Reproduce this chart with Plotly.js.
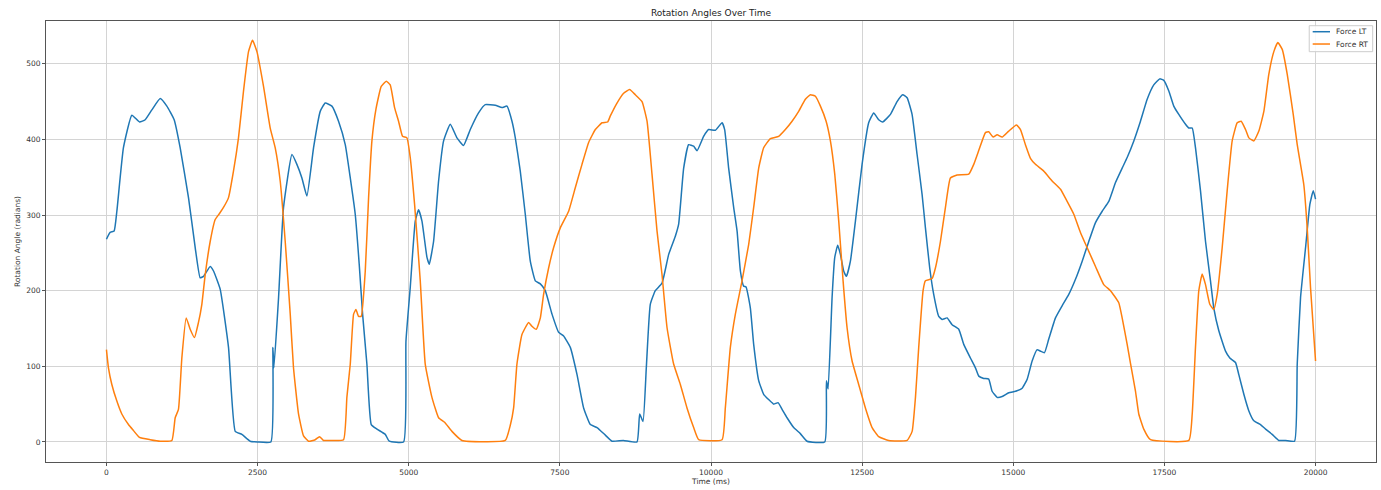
<!DOCTYPE html>
<html>
<head>
<meta charset="utf-8">
<script src="https://cdn.plot.ly/plotly-3.0.1.min.js"></script>
<style>html,body{margin:0;padding:0;background:#fff;}#chart{width:1381px;height:490px;}</style>
</head>
<body>
<div id="chart"></div>
<script>
// Force LT: time (ms) and rotation angle
const timeLT = [0,61,127,172,281,420,547,641,751,889,999,1120,1219,1357,1468,1550,1606,1716,1771,1881,2019,2130,2240,2378,2500,2720,2753,2770,2847,2929,3068,3150,3233,3316,3426,3536,3619,3729,3839,3950,4033,4115,4181,4237,4308,4380,4474,4612,4678,4915,4954,5025,5108,5163,5219,5302,5340,5411,5494,5577,5687,5798,5907,6018,6155,6266,6432,6543,6625,6708,6763,6845,6928,7011,7094,7177,7259,7370,7480,7562,7673,7784,7893,8004,8115,8252,8363,8550,8776,8820,8876,8930,8996,9079,9190,9300,9410,9465,9548,9630,9713,9769,9878,9961,10072,10183,10226,10292,10375,10431,10486,10540,10580,10651,10706,10789,10871,10954,11037,11109,11176,11258,11368,11478,11589,11881,11909,11937,12003,12047,12096,12141,12195,12240,12306,12389,12499,12608,12691,12774,12840,12968,13078,13171,13244,13326,13409,13492,13547,13618,13684,13767,13823,13905,13988,14098,14181,14291,14374,14429,14512,14594,14650,14733,14816,14925,15036,15147,15230,15312,15395,15450,15516,15587,15698,15808,15918,16029,16140,16249,16360,16471,16580,16691,16801,16884,16994,17104,17215,17324,17424,17490,17573,17655,17738,17849,17904,17960,18014,18097,18180,18262,18317,18400,18511,18582,18676,18731,18814,18897,18979,19090,19173,19283,19393,19504,19653,19697,19752,19835,19906,19962,20000];
const valLT = [268,277,279,305,389,432,423,426,439,454,444,426,389,323,257,217,219,232,226,202,125,14,10,1,0,0,125,98,191,310,380,367,349,325,389,437,448,444,424,393,349,301,235,169,103,23,17,10,1,0,133,204,292,307,292,244,235,265,345,398,420,402,392,413,435,446,445,442,444,424,402,358,301,239,213,209,200,169,145,140,125,89,45,23,19,9,1,2,0,37,27,98,182,200,210,248,272,288,362,393,391,385,404,413,412,422,413,362,310,279,226,206,205,177,129,81,63,56,50,52,43,32,19,11,1,0,81,70,191,244,260,248,226,219,239,292,367,422,435,426,423,433,450,459,455,433,380,327,283,230,195,166,162,164,155,149,129,111,98,87,84,83,67,59,60,65,67,71,83,107,122,120,118,136,164,180,195,215,239,265,290,305,318,343,362,376,398,424,453,472,480,478,464,444,433,420,415,415,389,332,265,213,177,147,120,111,105,89,63,41,28,23,17,10,2,2,1,103,191,257,314,332,321];

// Force RT: time (ms) and rotation angle
const timeRT = [0,33,89,172,254,364,447,546,723,889,1082,1137,1191,1247,1319,1385,1456,1522,1578,1633,1716,1799,1870,1936,2019,2101,2184,2267,2350,2416,2489,2598,2709,2791,2874,2957,3040,3094,3177,3260,3342,3453,3524,3590,3729,3922,3977,4033,4088,4127,4170,4214,4281,4336,4391,4458,4545,4628,4694,4766,4832,4898,4970,5025,5097,5191,5273,5384,5494,5593,5715,5880,6597,6680,6735,6790,6873,6983,7038,7110,7177,7231,7314,7397,7507,7645,7755,7866,7976,8087,8197,8290,8335,8445,8555,8654,8748,8859,8942,9024,9107,9190,9273,9382,9493,9603,9713,9796,10183,10237,10320,10403,10513,10623,10706,10789,10871,10982,11119,11230,11341,11450,11561,11644,11727,11810,11904,11975,12047,12113,12185,12251,12334,12443,12554,12665,12774,12940,13244,13327,13382,13436,13508,13547,13657,13712,13795,13878,13960,14071,14263,14346,14445,14540,14594,14667,14733,14816,14925,15053,15119,15201,15284,15367,15504,15643,15781,15891,16001,16111,16249,16360,16497,16608,16745,16801,16884,16939,17022,17076,17159,17270,17904,17960,18014,18069,18125,18180,18251,18317,18373,18456,18538,18621,18704,18770,18842,18897,18979,19062,19145,19227,19310,19376,19449,19532,19631,19697,19806,19862,19917,20000];
const valRT = [122,98,76,54,37,23,15,6,3,1,2,32,43,111,164,149,138,158,182,221,265,294,302,310,323,358,402,464,516,531,516,470,415,389,345,265,169,98,37,8,1,3,7,2,2,3,59,103,169,175,166,166,226,323,398,440,470,477,472,442,424,404,402,376,314,213,103,59,32,26,14,2,2,22,45,103,142,158,153,149,164,195,230,257,283,305,336,367,396,413,422,423,431,448,461,466,459,450,424,354,279,221,151,103,76,45,19,3,3,45,125,169,213,261,310,362,389,401,404,413,424,437,453,459,457,444,424,398,354,292,213,151,107,76,45,19,7,2,2,14,59,125,200,213,216,230,265,310,349,353,354,367,389,409,410,403,406,403,411,419,413,393,375,367,358,345,334,318,301,277,252,232,208,200,184,164,129,104,67,37,17,3,2,37,125,200,222,208,182,175,195,257,332,398,422,424,413,402,398,411,437,486,516,528,519,486,433,393,340,283,204,107];

const seriesNames = ["Force LT", "Force RT"];
const seriesColors = ["#1f77b4", "#ff7f0e"];
const xTicks = [0, 2500, 5000, 7500, 10000, 12500, 15000, 17500, 20000];
const yTicks = [0, 100, 200, 300, 400, 500];

const FONT = "DejaVu Sans, Liberation Sans, sans-serif";
const traces = [
  {x: timeLT, y: valLT, name: seriesNames[0], type: "scatter", mode: "lines",
   line: {color: seriesColors[0], width: 1.5, shape: "spline", smoothing: 0.4}},
  {x: timeRT, y: valRT, name: seriesNames[1], type: "scatter", mode: "lines",
   line: {color: seriesColors[1], width: 1.5, shape: "spline", smoothing: 0.4}}
];

const axisCommon = {
  showline: true, mirror: true, linecolor: "#555", linewidth: 1,
  showgrid: true, gridcolor: "#d4d4d4", gridwidth: 1,
  zeroline: false, ticks: "outside", ticklen: 3, tickcolor: "#555",
  tickfont: {family: FONT, size: 7.5, color: "#333"},
  automargin: false
};

// Legend drawn as a compact box (matplotlib-style)
const legX0 = 0.9498, legX1 = 0.9975, legY0 = 0.9304, legY1 = 0.9893;
const legRows = [0.9757, 0.9478];
const shapes = [
  {type: "rect", xref: "paper", yref: "paper", x0: legX0, x1: legX1, y0: legY0, y1: legY1,
   fillcolor: "rgba(255,255,255,0.85)", line: {color: "#cccccc", width: 1}, layer: "above"}
];
const annotations = [];
seriesNames.forEach((n, i) => {
  shapes.push({type: "line", xref: "paper", yref: "paper", x0: 0.9524, x1: 0.9654,
               y0: legRows[i], y1: legRows[i], line: {color: seriesColors[i], width: 1.5}, layer: "above"});
  annotations.push({xref: "paper", yref: "paper", x: 0.9686, y: legRows[i], xanchor: "left", yanchor: "middle",
                    text: n, showarrow: false, font: {family: FONT, size: 7.5, color: "#333"}});
});

const layout = {
  width: 1381, height: 490,
  paper_bgcolor: "#fff", plot_bgcolor: "#fff",
  margin: {l: 46, r: 5, t: 21, b: 28},
  title: {text: "Rotation Angles Over Time", font: {family: FONT, size: 9, color: "#222"},
          x: 0.5, xref: "paper", y: 1 - 13.3/490, yref: "container", yanchor: "middle"},
  xaxis: Object.assign({}, axisCommon, {
    range: [-1000, 21000], tickvals: xTicks, ticktext: xTicks.map(String),
    title: {text: "Time (ms)", font: {family: FONT, size: 7.5, color: "#333"}, standoff: 2}
  }),
  yaxis: Object.assign({}, axisCommon, {
    range: [-26.5, 556.5], tickvals: yTicks, ticktext: yTicks.map(String),
    title: {text: "Rotation Angle (radians)", font: {family: FONT, size: 7.5, color: "#333"}, standoff: 4}
  }),
  showlegend: false,
  shapes: shapes,
  annotations: annotations
};

Plotly.newPlot("chart", traces, layout, {displayModeBar: false, staticPlot: true});
</script>
</body>
</html>
